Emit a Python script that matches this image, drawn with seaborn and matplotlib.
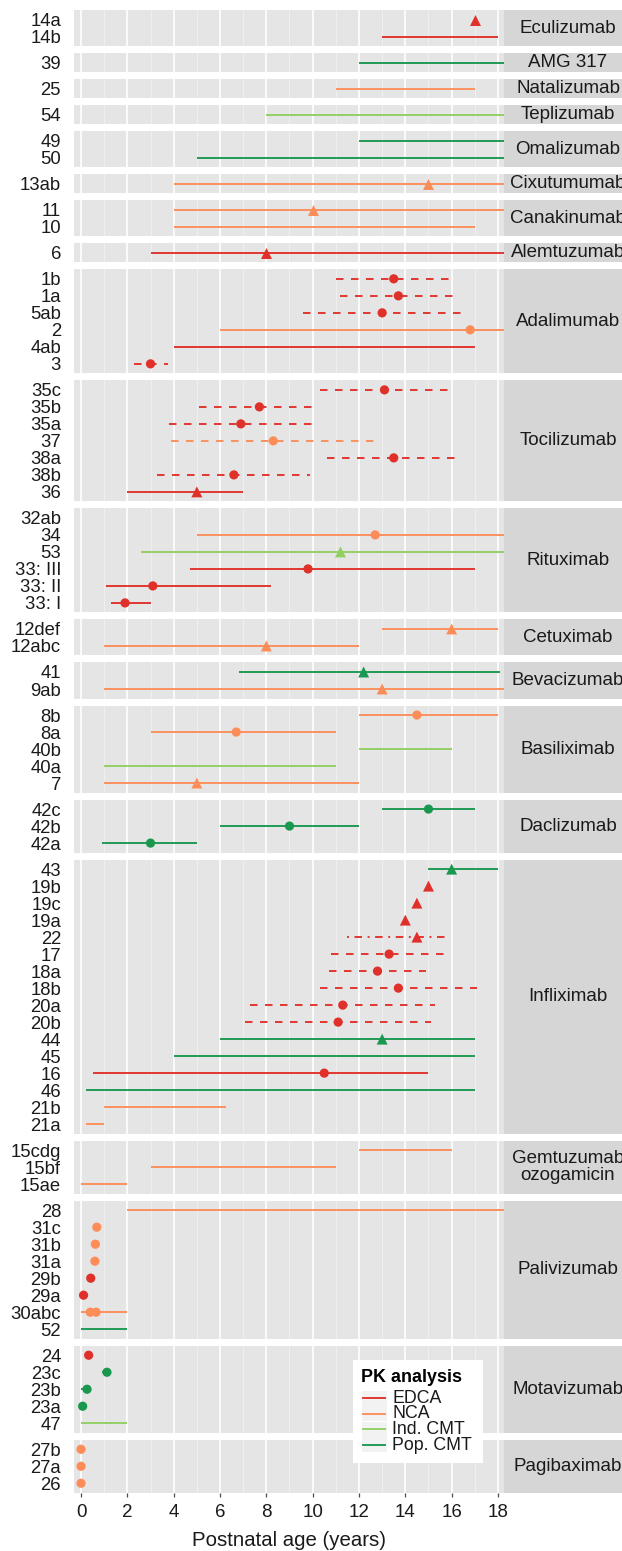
import numpy as np
import pandas as pd
import matplotlib
matplotlib.use("Agg")
import matplotlib.pyplot as plt
import seaborn as sns
from matplotlib.lines import Line2D
from matplotlib.patches import Rectangle

plt.rcParams["font.family"] = ["Liberation Sans", "DejaVu Sans"]

# ---- data: one record per study (a study may carry several point estimates) ----
drug = (["Eculizumab"] * 2 + ["AMG 317"] + ["Natalizumab"] + ["Teplizumab"]
        + ["Omalizumab"] * 2 + ["Cixutumumab"] + ["Canakinumab"] * 2 + ["Alemtuzumab"]
        + ["Adalimumab"] * 6 + ["Tocilizumab"] * 7 + ["Rituximab"] * 6
        + ["Cetuximab"] * 2 + ["Bevacizumab"] * 2 + ["Basiliximab"] * 5
        + ["Daclizumab"] * 3 + ["Infliximab"] * 16 + ["Gemtuzumab\nozogamicin"] * 3
        + ["Palivizumab"] * 9 + ["Motavizumab"] * 5 + ["Pagibaximab"] * 3)

study = ["14a", "14b", "39", "25", "54", "49", "50", "13ab", "11", "10", "6",
         "1b", "1a", "5ab", "2", "4ab", "3",
         "35c", "35b", "35a", "37", "38a", "38b", "36",
         "32ab", "34", "53", "33: III", "33: II", "33: I",
         "12def", "12abc", "41", "9ab",
         "8b", "8a", "40b", "40a", "7",
         "42c", "42b", "42a",
         "43", "19b", "19c", "19a", "22", "17", "18a", "18b", "20a", "20b",
         "44", "45", "16", "46", "21b", "21a",
         "15cdg", "15bf", "15ae",
         "28", "31c", "31b", "31a", "29b", "29a", "30abc", "30abc", "52",
         "24", "23c", "23b", "23a", "47",
         "27b", "27a", "26"]

age_min = [np.nan, 13, 12, 11, 8, 12, 5, 4, 4, 4, 3,
           11.0, 11.2, 9.6, 6, 4, 2.3,
           10.3, 5.1, 3.8, 3.9, 10.6, 3.3, 2,
           np.nan, 5, 2.6, 4.7, 1.1, 1.3,
           13, 1, 6.8, 1,
           12, 3, 12, 1, 1,
           13, 6, 0.9,
           15, np.nan, np.nan, np.nan, 11.5, 10.8, 10.7, 10.3, 7.3, 7.1,
           6, 4, 0.5, 0.2, 1, 0.2,
           12, 3, 0,
           2, np.nan, np.nan, np.nan, np.nan, np.nan, 0, np.nan, 0,
           np.nan, 0.9, 0.0, np.nan, 0,
           np.nan, np.nan, np.nan]

age_max = [np.nan, 18, 18.3, 17, 18.3, 18.3, 18.3, 18.3, 18.3, 17, 18.3,
           16.0, 16.1, 16.4, 18.3, 17, 3.75,
           15.9, 10.1, 10.1, 12.7, 16.2, 9.9, 7,
           np.nan, 18.3, 18.3, 17, 8.2, 3.0,
           18, 12, 18.1, 18.3,
           18, 11, 16, 11, 12,
           17, 12, 5,
           18, np.nan, np.nan, np.nan, 15.8, 15.7, 14.9, 17.1, 15.3, 15.1,
           17, 17, 15, 17, 6.25, 1.0,
           16, 11, 2,
           18.3, np.nan, np.nan, np.nan, np.nan, np.nan, 2, np.nan, 2,
           np.nan, 1.12, 0.26, np.nan, 2,
           np.nan, np.nan, np.nan]

age_median = [17, np.nan, np.nan, np.nan, np.nan, np.nan, np.nan, 15, 10, np.nan, 8,
              13.5, 13.7, 13.0, 16.8, np.nan, 3.0,
              13.1, 7.7, 6.9, 8.3, 13.5, 6.6, 5,
              np.nan, 12.7, 11.2, 9.8, 3.1, 1.9,
              16, 8, 12.2, 13,
              14.5, 6.7, np.nan, np.nan, 5,
              15, 9, 3,
              16, 15, 14.5, 14, 14.5, 13.3, 12.8, 13.7, 11.3, 11.1,
              13, np.nan, 10.5, np.nan, np.nan, np.nan,
              np.nan, np.nan, np.nan,
              np.nan, 0.68, 0.62, 0.6, 0.42, 0.11, 0.4, 0.65, np.nan,
              0.33, 1.12, 0.26, 0.07, np.nan,
              0, 0, 0]

method = (["EDCA"] * 2 + ["Pop. CMT"] + ["NCA"] + ["Ind. CMT"] + ["Pop. CMT"] * 2
          + ["NCA"] * 3 + ["EDCA"]
          + ["EDCA"] * 3 + ["NCA"] + ["EDCA"] * 2
          + ["EDCA"] * 3 + ["NCA"] + ["EDCA"] * 3
          + ["NCA", "NCA", "Ind. CMT", "EDCA", "EDCA", "EDCA"]
          + ["NCA", "NCA", "Pop. CMT", "NCA"]
          + ["NCA", "NCA", "Ind. CMT", "Ind. CMT", "NCA"]
          + ["Pop. CMT"] * 3
          + ["Pop. CMT"] + ["EDCA"] * 9 + ["Pop. CMT"] * 2 + ["EDCA"] + ["Pop. CMT"] + ["NCA"] * 2
          + ["NCA"] * 3
          + ["NCA"] * 4 + ["EDCA"] * 2 + ["NCA"] * 2 + ["Pop. CMT"]
          + ["EDCA"] + ["Pop. CMT"] * 3 + ["Ind. CMT"]
          + ["NCA"] * 3)

shape = (["triangle", None, None, None, None, None, None, "triangle", "triangle", None, "triangle"]
         + ["circle"] * 4 + [None, "circle"]
         + ["circle"] * 6 + ["triangle"]
         + [None, "circle", "triangle", "circle", "circle", "circle"]
         + ["triangle"] * 4
         + ["circle", "circle", None, None, "triangle"]
         + ["circle"] * 3
         + ["triangle"] * 5 + ["circle"] * 5 + ["triangle", None, "circle", None, None, None]
         + [None] * 3
         + [None] + ["circle"] * 7 + [None]
         + ["circle"] * 4 + [None]
         + ["circle"] * 3)

linetype = (["solid"] * 11
            + ["dashed"] * 3 + ["solid"] * 2 + ["dashed"]
            + ["dashed"] * 6 + ["solid"]
            + ["solid"] * 6
            + ["solid"] * 4
            + ["solid"] * 5
            + ["solid"] * 3
            + ["solid"] * 4 + ["dotdash"] + ["dashed"] * 5 + ["solid"] * 6
            + ["solid"] * 3
            + ["solid"] * 9
            + ["solid"] * 5
            + ["solid"] * 3)

methods = ["EDCA", "NCA", "Ind. CMT", "Pop. CMT"]
palette = {"EDCA": "#E0302A", "NCA": "#FC8D59", "Ind. CMT": "#91CF60", "Pop. CMT": "#1A9850"}

df = pd.DataFrame({"drug": drug, "study": study, "lo": age_min, "hi": age_max,
                   "med": age_median, "method": method, "shape": shape, "lt": linetype})

# ---- layout (figure pixels) ----
W, H = 622, 1551
fig = plt.figure(figsize=(W / 100, H / 100), dpi=100)

left, right = 74.3, 504.0
top = 10.0
row_px = 17.0
gap = 7.0
pad = 0.56
strip_w = 130.0
xmin, xmax = -0.29, 18.26

dashes = {"solid": "-", "dashed": (0, (4, 4)), "dotdash": (0, (1, 3, 4, 3))}

drugs = list(dict.fromkeys(df["drug"]))
y = top
for k, d in enumerate(drugs):
    sub = df[df["drug"] == d].copy()
    labels = list(dict.fromkeys(sub["study"]))
    sub["ypos"] = sub["study"].map({s: i for i, s in enumerate(labels)})
    n = len(labels)
    h = (n - 1 + 2 * pad) * row_px
    ax = fig.add_axes([left / W, 1 - (y + h) / H, (right - left) / W, h / H])
    ax.set_facecolor("#E5E5E5")
    ax.set_xlim(xmin, xmax)
    ax.set_ylim(n - 1 + pad, -pad)
    for s in ax.spines.values():
        s.set_visible(False)

    for xv in range(1, 18, 2):
        ax.axvline(xv, color="#F2F2F2", lw=0.6, zorder=0.5)
    for xv in range(0, 19, 2):
        ax.axvline(xv, color="white", lw=1.2, zorder=0.6)

    # age ranges
    for _, r in sub.dropna(subset=["lo", "hi"]).iterrows():
        ax.plot([r["lo"], r["hi"]], [r["ypos"], r["ypos"]], color=palette[r["method"]],
                lw=1.35, linestyle=dashes[r["lt"]], solid_capstyle="butt", zorder=2)

    # median ages
    pts = sub.dropna(subset=["med"])
    if len(pts):
        sns.scatterplot(data=pts, x="med", y="ypos", hue="method", palette=palette,
                        style="shape", markers={"circle": "o", "triangle": "^"},
                        size="shape", sizes={"circle": 44, "triangle": 62},
                        linewidth=0, legend=False, ax=ax, zorder=3, clip_on=False)
    ax.set_xlabel("")
    ax.set_ylabel("")

    ax.set_yticks(range(n))
    ax.set_yticklabels(labels)
    ax.tick_params(axis="y", length=0, pad=9.5, labelsize=13.3, labelcolor="#1A1A1A")
    ax.set_xticks(range(0, 19, 2))
    ax.set_xticks([], minor=True)
    if k == len(drugs) - 1:
        ax.tick_params(axis="x", length=3.2, width=0.9, color="#4D4D4D", pad=5,
                       labelsize=13.5, labelcolor="#1A1A1A")
        ax.set_xlabel("Postnatal age (years)", fontsize=14.7, color="#1A1A1A", labelpad=7)
    else:
        ax.tick_params(axis="x", length=0, labelbottom=False)

    # facet strip on the right
    ax.add_patch(Rectangle((1, 0), strip_w / (right - left), 1, transform=ax.transAxes,
                           facecolor="#D6D6D6", edgecolor="none", clip_on=False, zorder=1))
    ax.text(1 + (568 - right) / (right - left), 0.5, d, transform=ax.transAxes,
            ha="center", va="center", fontsize=13.5, color="#1A1A1A",
            linespacing=1.05, clip_on=False)

    y += h + gap

# ---- legend ----
def fx(px):
    return px / W


def fy(py):
    return 1 - py / H


fig.patches.append(Rectangle((fx(353), fy(1463)), (483 - 353) / W, (1463 - 1360) / H,
                             transform=fig.transFigure, facecolor="white", edgecolor="none",
                             zorder=5))
fig.text(fx(361), fy(1377), "PK analysis", fontsize=12.9, fontweight="bold",
         ha="left", va="center", color="black", zorder=6)
key_y = [1398, 1413.5, 1429, 1444.5]
for m, ky in zip(methods, key_y):
    fig.patches.append(Rectangle((fx(361.5), fy(ky + 7.5)), 25 / W, 15 / H,
                                 transform=fig.transFigure, facecolor="#F2F2F2",
                                 edgecolor="none", zorder=6))
    fig.lines.append(Line2D([fx(363), fx(385)], [fy(ky), fy(ky)], transform=fig.transFigure,
                            color=palette[m], lw=1.35, zorder=7))
    fig.text(fx(392.5), fy(ky + 0.5), m, fontsize=12.8, ha="left", va="center",
             color="#1A1A1A", zorder=7)

fig.savefig("out.png", dpi=100)
